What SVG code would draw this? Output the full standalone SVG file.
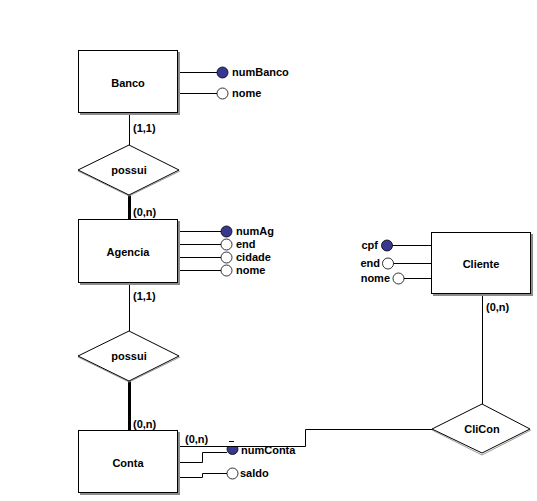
<svg xmlns="http://www.w3.org/2000/svg" width="537" height="501" viewBox="0 0 537 501">
  <style>
    text { font-family: "Liberation Sans", Arial, sans-serif; font-size: 11px; font-weight: bold; fill: #000; }
    .ent { fill: #fff; stroke: #000; stroke-width: 1; }
    .shadow { fill: #8c8c8c; stroke: none; }
    .rel { fill: #fff; stroke: #000; stroke-width: 1; }
    .relsh { fill: none; stroke: #9a9a9a; stroke-width: 1; }
    .line { fill: none; stroke: #000; stroke-width: 1; }
    .thick { fill: none; stroke: #000; stroke-width: 3; }
    .key { fill: #383890; stroke: #000; stroke-width: 0.8; }
    .att { fill: #fff; stroke: #000; stroke-width: 0.8; }
    .mid { text-anchor: middle; }
    .end { text-anchor: end; }
  </style>
  <rect width="537" height="501" fill="#fff"/>

  <!-- connectors -->
  <g id="connectors">
    <path class="line" d="M129.5,113 V145"/>
    <path class="thick" d="M129.5,195 V219"/>
    <path class="line" d="M129.5,284 V331"/>
    <path class="thick" d="M129.5,381 V430"/>
    <path class="line" d="M482.5,295 V404"/>
    <text x="133" y="132">(1,1)</text>
    <text x="133" y="216">(0,n)</text>
    <text x="133" y="300">(1,1)</text>
    <text x="133" y="428">(0,n)</text>
    <text x="486" y="311">(0,n)</text>
  </g>

  <!-- Banco -->
  <g id="banco">
    <rect class="shadow" x="80" y="52" width="100" height="63"/>
    <rect class="ent" x="78.5" y="50.5" width="99" height="62"/>
    <text class="mid" x="128" y="87">Banco</text>
    <path class="line" d="M180,72.5 H217 M180,93.5 H217"/>
    <circle class="key" cx="222.5" cy="72.5" r="5.5"/>
    <circle class="att" cx="222.5" cy="93.5" r="5.5"/>
    <text x="232" y="76">numBanco</text>
    <text x="232" y="97">nome</text>
  </g>

  <!-- possui (Banco-Agencia) -->
  <g id="possui1">
    <path class="relsh" d="M78,171 L129,196 L180,171"/>
    <polygon class="rel" points="129,145 179,170 129,195 78,170"/>
    <text class="mid" x="129" y="174">possui</text>
  </g>

  <!-- Agencia -->
  <g id="agencia">
    <rect class="shadow" x="80" y="221" width="100" height="64"/>
    <rect class="ent" x="78.5" y="219.5" width="99" height="63"/>
    <text class="mid" x="128" y="256">Agencia</text>
    <path class="line" d="M180,231.5 H221 M180,244.5 H221 M180,257.5 H221 M180,270.5 H221"/>
    <circle class="key" cx="226.5" cy="231.5" r="5.5"/>
    <circle class="att" cx="226.5" cy="244.5" r="5.5"/>
    <circle class="att" cx="226.5" cy="257.5" r="5.5"/>
    <circle class="att" cx="226.5" cy="270.5" r="5.5"/>
    <text x="236" y="235">numAg</text>
    <text x="236" y="248">end</text>
    <text x="236" y="261">cidade</text>
    <text x="236" y="274">nome</text>
  </g>

  <!-- possui (Agencia-Conta) -->
  <g id="possui2">
    <path class="relsh" d="M78,357 L129,382 L180,357"/>
    <polygon class="rel" points="129,331 179,356 129,381 78,356"/>
    <text class="mid" x="129" y="360">possui</text>
  </g>

  <!-- Conta -->
  <g id="conta">
    <rect class="shadow" x="80" y="432" width="100" height="63"/>
    <rect class="ent" x="78.5" y="430.5" width="99" height="62"/>
    <text class="mid" x="128" y="467">Conta</text>
    <path class="line" d="M180,462.5 H202.5 V452.5 H227"/>
    <path class="line" d="M180,477.5 H202.5 V473.5 H227"/>
    <circle class="key" cx="232.5" cy="449" r="5.5"/>
    <circle class="att" cx="232.5" cy="473.5" r="5.5"/>
    <text x="241" y="454">numConta</text>
    <text x="240" y="477">saldo</text>
    <!-- label area of the Conta-CliCon link masks the top of numConta -->
    <rect x="224" y="438" width="76" height="8" fill="#fff"/>
    <path class="line" d="M229,441.5 H234"/>
    <path class="line" d="M180,446.5 H305.5 V429.5 H432"/>
    <text x="185" y="443">(0,n)</text>
  </g>

  <!-- Cliente -->
  <g id="cliente">
    <rect class="shadow" x="433" y="234" width="100" height="62"/>
    <rect class="ent" x="431.5" y="232.5" width="99" height="61"/>
    <text class="mid" x="481" y="268">Cliente</text>
    <path class="line" d="M392,245.5 H431 M393,263.5 H431 M403,278.5 H431"/>
    <circle class="key" cx="387" cy="245.5" r="5.5"/>
    <circle class="att" cx="388" cy="263.5" r="5.5"/>
    <circle class="att" cx="398.5" cy="278.5" r="5.5"/>
    <text class="end" x="378" y="249">cpf</text>
    <text class="end" x="380" y="267">end</text>
    <text class="end" x="390" y="282">nome</text>
  </g>

  <!-- CliCon -->
  <g id="clicon">
    <path class="relsh" d="M432,430 L482,455 L531,430"/>
    <polygon class="rel" points="482,404 530,429 482,453 432,429"/>
    <text class="mid" x="482" y="433">CliCon</text>
  </g>
</svg>
